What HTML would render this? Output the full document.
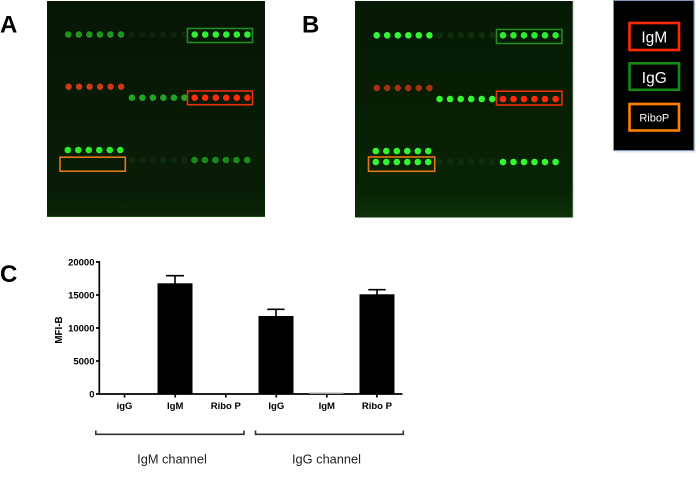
<!DOCTYPE html>
<html>
<head>
<meta charset="utf-8">
<style>
html,body{margin:0;padding:0;background:#fff;}
svg{display:block;}
text{font-family:"Liberation Sans",Arial,sans-serif;}
</style>
</head>
<body>
<svg width="700" height="479" viewBox="0 0 700 479" xmlns="http://www.w3.org/2000/svg">
<defs>
<linearGradient id="bgA" x1="0" y1="0" x2="0" y2="1">
<stop offset="0" stop-color="#061705"/>
<stop offset="0.9" stop-color="#081d06"/>
<stop offset="1" stop-color="#0a2507"/>
</linearGradient>
<linearGradient id="bgB" x1="0" y1="0" x2="0" y2="1">
<stop offset="0" stop-color="#061904"/>
<stop offset="0.88" stop-color="#082305"/>
<stop offset="1" stop-color="#0c3207"/>
</linearGradient>
</defs>

<!-- Labels A B C -->
<text x="0" y="32.5" font-size="24" font-weight="bold" fill="#000">A</text>
<text x="302" y="32.5" font-size="24" font-weight="bold" fill="#000">B</text>
<text x="0" y="282" font-size="24" font-weight="bold" fill="#000">C</text>

<!-- Panel A -->
<rect x="47" y="1" width="218" height="216" fill="url(#bgA)"/>
<line x1="47" y1="216.5" x2="265" y2="216.5" stroke="#1a5210" stroke-width="1"/>
<g id="A">
<!-- row 1 -->
<g fill="#1f951f">
<circle cx="68.3" cy="34.5" r="3.3"/><circle cx="78.8" cy="34.5" r="3.3"/><circle cx="89.4" cy="34.5" r="3.3"/><circle cx="99.9" cy="34.5" r="3.3"/><circle cx="110.4" cy="34.5" r="3.3"/><circle cx="121" cy="34.5" r="3.3"/>
</g>
<g fill="#0b240a">
<circle cx="131.5" cy="34.5" r="3.3"/><circle cx="142" cy="34.5" r="3.3"/><circle cx="152.6" cy="34.5" r="3.3"/><circle cx="163.1" cy="34.5" r="3.3"/><circle cx="173.6" cy="34.5" r="3.3"/><circle cx="184.2" cy="34.5" r="3.3"/>
</g>
<g fill="#35ec35">
<circle cx="194.7" cy="34.5" r="3.3"/><circle cx="205.2" cy="34.5" r="3.3"/><circle cx="215.8" cy="34.5" r="3.3"/><circle cx="226.3" cy="34.5" r="3.3"/><circle cx="236.8" cy="34.5" r="3.3"/><circle cx="247.4" cy="34.5" r="3.3"/>
</g>
<rect x="187.5" y="28.5" width="65" height="14" fill="none" stroke="#1e8c1e" stroke-width="1.6"/>
<!-- row 2 -->
<g fill="#cf3a16">
<circle cx="68.6" cy="86.7" r="3.2"/><circle cx="79.1" cy="86.7" r="3.2"/><circle cx="89.6" cy="86.7" r="3.2"/><circle cx="100.1" cy="86.7" r="3.2"/><circle cx="110.6" cy="86.7" r="3.2"/><circle cx="121.1" cy="86.7" r="3.2"/>
</g>
<g fill="#22a322">
<circle cx="131.9" cy="97.7" r="3.3"/><circle cx="142.4" cy="97.7" r="3.3"/><circle cx="152.9" cy="97.7" r="3.3"/><circle cx="163.4" cy="97.7" r="3.3"/><circle cx="173.9" cy="97.7" r="3.3"/><circle cx="184.4" cy="97.7" r="3.3"/>
</g>
<g fill="#ff2a08">
<circle cx="194.7" cy="97.7" r="3.3"/><circle cx="205.2" cy="97.7" r="3.3"/><circle cx="215.8" cy="97.7" r="3.3"/><circle cx="226.3" cy="97.7" r="3.3"/><circle cx="236.8" cy="97.7" r="3.3"/><circle cx="247.4" cy="97.7" r="3.3"/>
</g>
<rect x="187.5" y="91" width="65" height="13.7" fill="none" stroke="#e8300c" stroke-width="1.6"/>
<!-- row 3 -->
<g fill="#2aee2a">
<circle cx="67.8" cy="150" r="3.3"/><circle cx="78.3" cy="150" r="3.3"/><circle cx="88.8" cy="150" r="3.3"/><circle cx="99.3" cy="150" r="3.3"/><circle cx="109.8" cy="150" r="3.3"/><circle cx="120.3" cy="150" r="3.3"/>
</g>
<rect x="60" y="157.2" width="65.3" height="14" fill="none" stroke="#e07a12" stroke-width="1.6"/>
<g fill="#0c290b">
<circle cx="131.8" cy="160" r="3.3"/><circle cx="142.3" cy="160" r="3.3"/><circle cx="152.8" cy="160" r="3.3"/><circle cx="163.3" cy="160" r="3.3"/><circle cx="173.8" cy="160" r="3.3"/><circle cx="184.3" cy="160" r="3.3"/>
</g>
<g fill="#1b8a1b">
<circle cx="194.5" cy="160" r="3.3"/><circle cx="205" cy="160" r="3.3"/><circle cx="215.5" cy="160" r="3.3"/><circle cx="226" cy="160" r="3.3"/><circle cx="236.5" cy="160" r="3.3"/><circle cx="247.2" cy="160" r="3.3"/>
</g>
</g>

<!-- Panel B -->
<rect x="355" y="1" width="218" height="216.5" fill="url(#bgB)"/>
<line x1="573" y1="1" x2="573" y2="217" stroke="#9fb59a" stroke-width="0.8"/>
<!-- row 1 -->
<g fill="#33f833">
<circle cx="376.7" cy="35.3" r="3.3"/><circle cx="387.2" cy="35.3" r="3.3"/><circle cx="397.8" cy="35.3" r="3.3"/><circle cx="408.3" cy="35.3" r="3.3"/><circle cx="418.8" cy="35.3" r="3.3"/><circle cx="429.4" cy="35.3" r="3.3"/>
</g>
<g fill="#0d2e0b">
<circle cx="439.9" cy="35.3" r="3.3"/><circle cx="450.4" cy="35.3" r="3.3"/><circle cx="461" cy="35.3" r="3.3"/><circle cx="471.5" cy="35.3" r="3.3"/><circle cx="482" cy="35.3" r="3.3"/><circle cx="492.6" cy="35.3" r="3.3"/>
</g>
<g fill="#30ea30">
<circle cx="503" cy="35.3" r="3.3"/><circle cx="513.5" cy="35.3" r="3.3"/><circle cx="524" cy="35.3" r="3.3"/><circle cx="534.5" cy="35.3" r="3.3"/><circle cx="545" cy="35.3" r="3.3"/><circle cx="555.6" cy="35.3" r="3.3"/>
</g>
<rect x="496.5" y="29.5" width="65.5" height="14" fill="none" stroke="#1e8c1e" stroke-width="1.6"/>
<!-- row 2 -->
<g fill="#a8320e">
<circle cx="376.7" cy="88" r="3.2"/><circle cx="387.2" cy="88" r="3.2"/><circle cx="397.8" cy="88" r="3.2"/><circle cx="408.3" cy="88" r="3.2"/><circle cx="418.8" cy="88" r="3.2"/><circle cx="429.4" cy="88" r="3.2"/>
</g>
<g fill="#33f833">
<circle cx="439.6" cy="99" r="3.3"/><circle cx="450.1" cy="99" r="3.3"/><circle cx="460.7" cy="99" r="3.3"/><circle cx="471.2" cy="99" r="3.3"/><circle cx="481.7" cy="99" r="3.3"/><circle cx="492.3" cy="99" r="3.3"/>
</g>
<g fill="#ff2a08">
<circle cx="503" cy="99" r="3.3"/><circle cx="513.5" cy="99" r="3.3"/><circle cx="524" cy="99" r="3.3"/><circle cx="534.5" cy="99" r="3.3"/><circle cx="545" cy="99" r="3.3"/><circle cx="555.6" cy="99" r="3.3"/>
</g>
<rect x="496.5" y="91.2" width="65.5" height="13.8" fill="none" stroke="#e8300c" stroke-width="1.6"/>
<!-- row 3 -->
<g fill="#33f833">
<circle cx="375.8" cy="151" r="3.3"/><circle cx="386.3" cy="151" r="3.3"/><circle cx="396.8" cy="151" r="3.3"/><circle cx="407.3" cy="151" r="3.3"/><circle cx="417.8" cy="151" r="3.3"/><circle cx="428.3" cy="151" r="3.3"/>
<circle cx="375.8" cy="162" r="3.3"/><circle cx="386.3" cy="162" r="3.3"/><circle cx="396.8" cy="162" r="3.3"/><circle cx="407.3" cy="162" r="3.3"/><circle cx="417.8" cy="162" r="3.3"/><circle cx="428.3" cy="162" r="3.3"/>
<circle cx="503" cy="162" r="3.3"/><circle cx="513.5" cy="162" r="3.3"/><circle cx="524" cy="162" r="3.3"/><circle cx="534.5" cy="162" r="3.3"/><circle cx="545" cy="162" r="3.3"/><circle cx="555.6" cy="162" r="3.3"/>
</g>
<g fill="#0d2e0b">
<circle cx="439.6" cy="162" r="3.3"/><circle cx="450.1" cy="162" r="3.3"/><circle cx="460.7" cy="162" r="3.3"/><circle cx="471.2" cy="162" r="3.3"/><circle cx="481.7" cy="162" r="3.3"/><circle cx="492.3" cy="162" r="3.3"/>
</g>
<rect x="368.5" y="157" width="66.2" height="14.3" fill="none" stroke="#e07a12" stroke-width="1.6"/>

<!-- Legend -->
<rect x="614.5" y="2" width="81" height="150.5" fill="#c9d3df" opacity="0.6"/>
<rect x="613.5" y="0.5" width="80.5" height="150" fill="#000" stroke="#7d97bb" stroke-width="1"/>
<rect x="629.5" y="23" width="49.5" height="27" fill="none" stroke="#ff2a00" stroke-width="2.6"/>
<text x="654.3" y="42.5" font-size="15.5" fill="#fff" text-anchor="middle">IgM</text>
<rect x="629.5" y="63.3" width="49.5" height="26.5" fill="none" stroke="#148a14" stroke-width="2.6"/>
<text x="654.3" y="83" font-size="15.5" fill="#fff" text-anchor="middle">IgG</text>
<rect x="629.5" y="104" width="49.5" height="26.5" fill="none" stroke="#ff8000" stroke-width="2.6"/>
<text x="654.3" y="121.5" font-size="11" fill="#fff" text-anchor="middle">RiboP</text>

<!-- Bar chart -->
<g stroke="#000" stroke-width="1.7" fill="none">
<line x1="99.3" y1="261" x2="99.3" y2="394.8"/>
<line x1="96" y1="394" x2="402.5" y2="394"/>
<line x1="96" y1="262" x2="99.3" y2="262"/>
<line x1="96" y1="295" x2="99.3" y2="295"/>
<line x1="96" y1="328" x2="99.3" y2="328"/>
<line x1="96" y1="361" x2="99.3" y2="361"/>
<line x1="124.5" y1="394" x2="124.5" y2="397.5"/>
<line x1="175.2" y1="394" x2="175.2" y2="397.5"/>
<line x1="225.8" y1="394" x2="225.8" y2="397.5"/>
<line x1="276.3" y1="394" x2="276.3" y2="397.5"/>
<line x1="326.8" y1="394" x2="326.8" y2="397.5"/>
<line x1="376.9" y1="394" x2="376.9" y2="397.5"/>
</g>
<g font-size="9.5" font-weight="bold" fill="#000" text-anchor="end">
<text x="94.5" y="265.3">20000</text>
<text x="94.5" y="298.3">15000</text>
<text x="94.5" y="331.3">10000</text>
<text x="94.5" y="364.3">5000</text>
<text x="94.5" y="397.3">0</text>
</g>
<text transform="translate(61.8,330) rotate(-90)" font-size="9.8" font-weight="bold" fill="#000" text-anchor="middle">MFI-B</text>

<!-- bars -->
<rect x="157.5" y="283.3" width="35" height="110.7" fill="#000"/>
<rect x="258.5" y="316" width="35" height="78" fill="#000"/>
<rect x="359.5" y="294.3" width="35" height="99.7" fill="#000"/>
<rect x="309" y="392.6" width="34.5" height="1.4" fill="#999"/>
<g stroke="#000" stroke-width="1.6">
<line x1="175" y1="283.5" x2="175" y2="275.7"/>
<line x1="166" y1="275.7" x2="184" y2="275.7"/>
<line x1="276" y1="316" x2="276" y2="309.3"/>
<line x1="267.3" y1="309.3" x2="284.5" y2="309.3"/>
<line x1="377" y1="294.5" x2="377" y2="289.7"/>
<line x1="368.3" y1="289.7" x2="385.7" y2="289.7"/>
</g>
<g font-size="9.5" font-weight="bold" fill="#000" text-anchor="middle">
<text x="124.5" y="408.8">igG</text>
<text x="175.2" y="408.8">IgM</text>
<text x="225.8" y="408.8">Ribo P</text>
<text x="276.3" y="408.8">IgG</text>
<text x="326.8" y="408.8">IgM</text>
<text x="376.9" y="408.8">Ribo P</text>
</g>

<!-- brackets -->
<g stroke="#333" stroke-width="1.6" fill="none">
<polyline points="95.8,430.5 95.8,434.3 244,434.3 244,430.5"/>
<polyline points="255.5,430.5 255.5,434.3 403.3,434.3 403.3,430.5"/>
</g>
<text x="172" y="463.5" font-size="12.8" fill="#222" text-anchor="middle">IgM channel</text>
<text x="326.5" y="463.5" font-size="12.8" fill="#222" text-anchor="middle">IgG channel</text>
</svg>
</body>
</html>
